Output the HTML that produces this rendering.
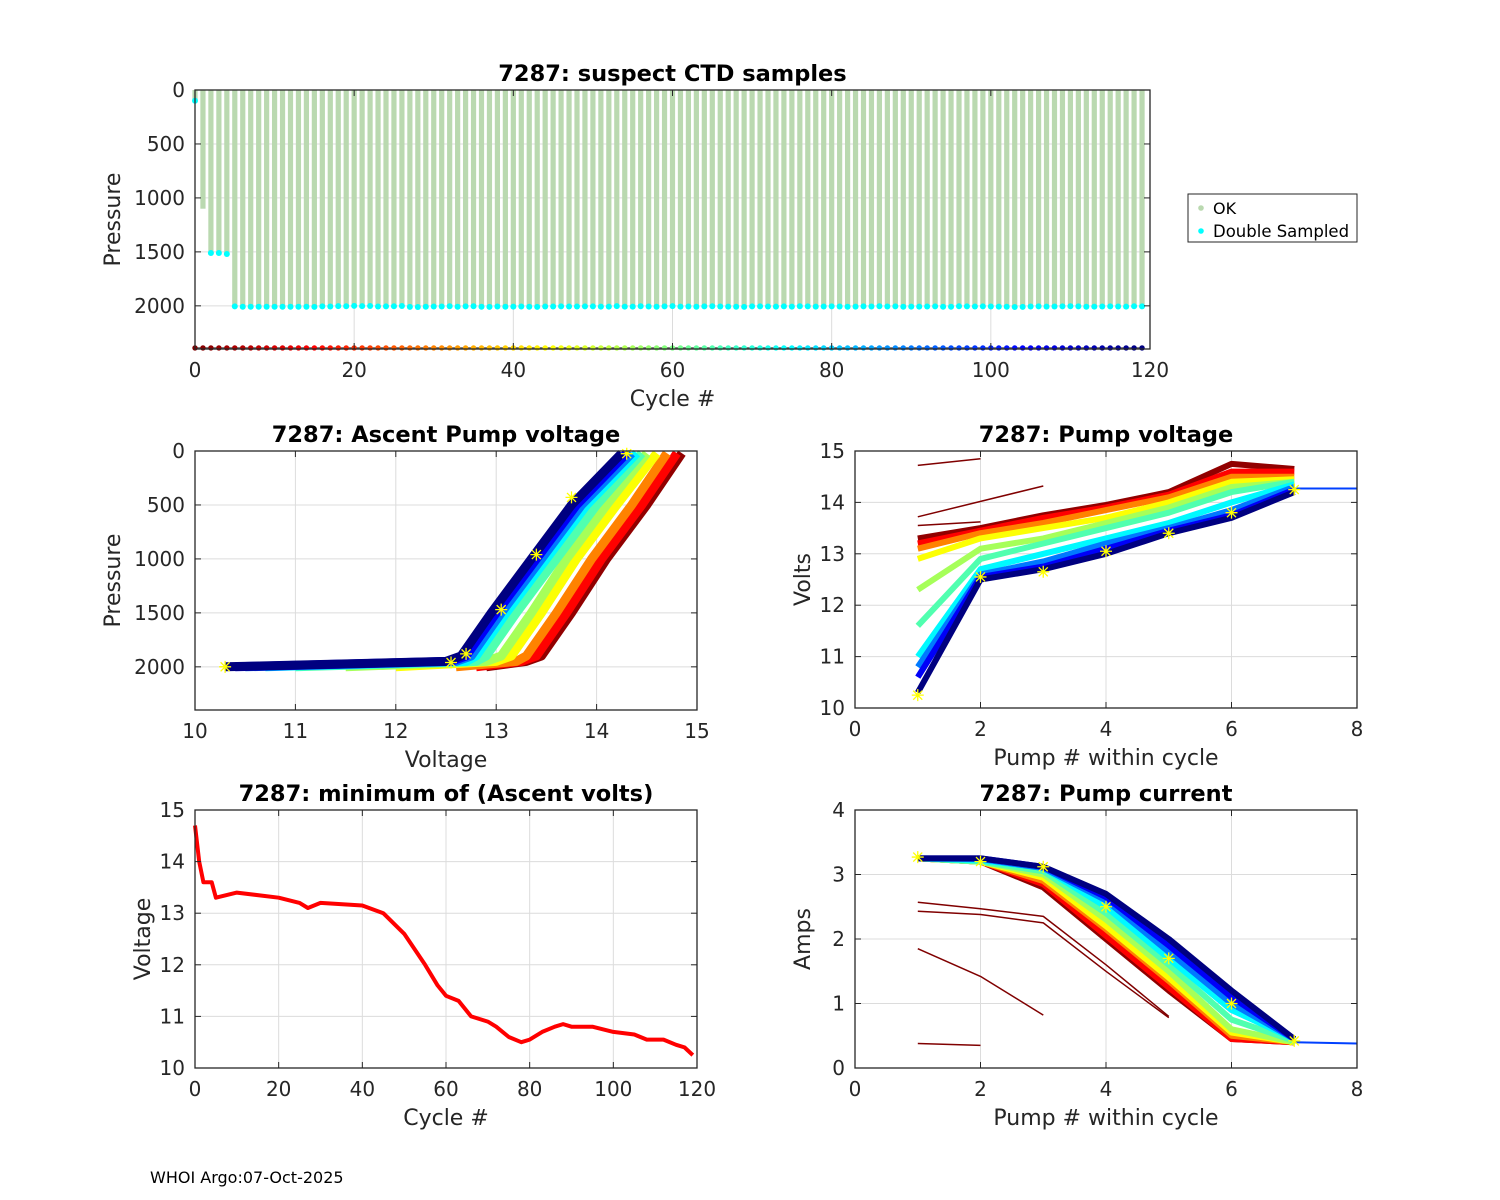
<!DOCTYPE html>
<html><head><meta charset="utf-8"><style>
body{margin:0;background:#fff;}
svg{display:block;font-family:"DejaVu Sans","Liberation Sans",sans-serif;}
</style></head><body>
<svg id="fig" width="1500" height="1200" viewBox="0 0 1500 1200" xmlns="http://www.w3.org/2000/svg">
<rect width="1500" height="1200" fill="#fff"/>
<text x="150" y="1183" font-size="16" fill="#000">WHOI Argo:07-Oct-2025</text>
</svg>
<script>
// ---------- DATA ----------
const ctdCycles = [];
for (let i = 0; i < 120; i++) ctdCycles.push(i);
const ctdDepths = [100,1100,1510,1510,1520,2005,2008,2008,2008,2008,2008,2008,2009,2008,2008,2010,2005,2006,2003,2004,2000,2003,2002,2006,2005,2004,2002,2010,2011,2008,2006,2006,2004,2008,2005,2004,2008,2010,2006,2008,2007,2006,2008,2010,2006,2006,2005,2006,2006,2005,2005,2007,2007,2003,2007,2007,2004,2006,2009,2005,2003,2007,2006,2008,2005,2004,2006,2007,2009,2010,2005,2005,2006,2007,2005,2007,2004,2005,2007,2006,2005,2006,2009,2007,2005,2006,2004,2006,2005,2008,2007,2007,2006,2005,2008,2009,2004,2005,2006,2005,2006,2007,2009,2011,2010,2006,2005,2007,2006,2005,2004,2005,2008,2007,2006,2005,2006,2007,2004,2005];
const ctdDoubleSampled = [1,0,1,1,1,1,1,1,1,1,1,1,1,1,1,1,1,1,1,1,1,1,1,1,1,1,1,1,1,1,1,1,1,1,1,1,1,1,1,1,1,1,1,1,1,1,1,1,1,1,1,1,1,1,1,1,1,1,1,1,1,1,1,1,1,1,1,1,1,1,1,1,1,1,1,1,1,1,1,1,1,1,1,1,1,1,1,1,1,1,1,1,1,1,1,1,1,1,1,1,1,1,1,1,1,1,1,1,1,1,1,1,1,1,1,1,1,1,1,1];

const profileCycles = [2,15,30,45,55,65,75,90,105,119];
const ascentPressures = [2000,1950,1900,1500,1000,500,20];
const ascentVolts = [
 [12.9,13.3,13.45,13.75,14.1,14.5,14.85],
 [12.8,13.25,13.4,13.7,14.05,14.45,14.8],
 [12.6,13.2,13.3,13.6,13.95,14.35,14.7],
 [12.0,13.0,13.15,13.45,13.8,14.2,14.6],
 [11.5,12.9,13.05,13.35,13.7,14.1,14.5],
 [11.0,12.8,12.9,13.2,13.6,14.0,14.45],
 [10.7,12.7,12.8,13.1,13.5,13.9,14.4],
 [10.5,12.6,12.75,13.05,13.45,13.85,14.35],
 [10.4,12.55,12.7,13.0,13.4,13.8,14.3],
 [10.3,12.5,12.65,12.95,13.35,13.75,14.25]];
const ascentStarV = [10.3,12.55,12.7,13.05,13.4,13.75,14.3];
const ascentStarP = [2000,1960,1880,1470,960,430,25];

const pumpNums = [1,2,3,4,5,6,7];
const pumpVolts = [
 [13.3,13.5,13.75,13.95,14.2,14.75,14.65],
 [13.2,13.45,13.7,13.9,14.15,14.6,14.6],
 [13.1,13.4,13.6,13.85,14.1,14.5,14.5],
 [12.9,13.3,13.5,13.7,14.0,14.4,14.45],
 [12.3,13.1,13.3,13.6,13.9,14.3,14.4],
 [11.6,12.9,13.2,13.5,13.8,14.2,14.4],
 [11.0,12.7,13.0,13.3,13.6,14.0,14.35],
 [10.8,12.6,12.85,13.2,13.5,13.85,14.3],
 [10.6,12.55,12.75,13.1,13.45,13.75,14.25],
 [10.3,12.5,12.7,13.0,13.4,13.7,14.2]];
const pumpVoltStars = [10.25,12.55,12.65,13.05,13.4,13.8,14.25];
const pumpVoltOutliersX = [[1,2],[1,3],[1,2]];
const pumpVoltOutliersY = [[14.72,14.85],[13.72,14.32],[13.55,13.62]];

const pumpAmps = [
 [3.25,3.2,2.8,2.0,1.2,0.45,0.4],
 [3.25,3.2,2.85,2.05,1.25,0.45,0.4],
 [3.25,3.2,2.9,2.15,1.35,0.5,0.4],
 [3.25,3.2,2.95,2.2,1.4,0.55,0.4],
 [3.25,3.2,3.0,2.3,1.5,0.6,0.4],
 [3.25,3.2,3.05,2.4,1.6,0.75,0.42],
 [3.25,3.22,3.1,2.5,1.7,0.9,0.45],
 [3.25,3.24,3.1,2.6,1.8,1.0,0.45],
 [3.25,3.25,3.12,2.65,1.9,1.1,0.45],
 [3.25,3.25,3.12,2.7,2.0,1.2,0.45]];
const ampStars = [3.27,3.2,3.12,2.5,1.7,1.0,0.42];
const ampOutliersX = [[1,2,3,4,5],[1,2,3,4,5],[1,2,3],[1,2]];
const ampOutliersY = [[2.57,2.47,2.35,1.6,0.8],[2.43,2.38,2.25,1.5,0.78],[1.85,1.42,0.82],[0.38,0.35]];

const minCycles = [0,1,2,4,5,10,20,25,27,30,40,45,50,55,58,60,63,66,70,72,75,78,80,83,86,88,90,95,100,105,108,112,115,117,119];
const minVolts = [14.7,14.0,13.6,13.6,13.3,13.4,13.3,13.2,13.1,13.2,13.15,13.0,12.6,12.0,11.6,11.4,11.3,11.0,10.9,10.8,10.6,10.5,10.55,10.7,10.8,10.85,10.8,10.8,10.7,10.65,10.55,10.55,10.45,10.4,10.25];

// ---------- HELPERS ----------
const svg = document.getElementById('fig');
const NS = 'http://www.w3.org/2000/svg';
function mk(tag, attrs, parent) {
  const e = document.createElementNS(NS, tag);
  for (const k in attrs) e.setAttribute(k, attrs[k]);
  (parent || svg).appendChild(e);
  return e;
}
function jet(t) {
  t = Math.max(0, Math.min(1, t));
  const f = x => Math.max(0, Math.min(1, x));
  const r = f(1.5 - Math.abs(4 * t - 3)), g = f(1.5 - Math.abs(4 * t - 2)), b = f(1.5 - Math.abs(4 * t - 1));
  return `rgb(${Math.round(r * 255)},${Math.round(g * 255)},${Math.round(b * 255)})`;
}
function cyc(c) { return jet(1 - c / 119); }
function lin(d0, d1, r0, r1) { return v => r0 + (v - d0) / (d1 - d0) * (r1 - r0); }

function makeAxes(o) {
  const g = mk('g', {});
  
  
  const sx = lin(o.xd[0], o.xd[1], o.x0, o.x1);
  const sy = lin(o.yd[0], o.yd[1], o.y0, o.y1);
  const top = Math.min(o.y0, o.y1), bot = Math.max(o.y0, o.y1);
  o.xt.forEach(v => { const x = sx(v); mk('line', {x1: x, x2: x, y1: top, y2: bot, stroke: '#dcdcdc', 'stroke-width': 1}, g); });
  o.yt.forEach(v => { const y = sy(v); mk('line', {x1: o.x0, x2: o.x1, y1: y, y2: y, stroke: '#dcdcdc', 'stroke-width': 1}, g); });
  const plot = mk('g', {}, g);
  
  
  const frame = mk('g', {}, g);
  return {g, plot, sx, sy, top, bot, frame, o};
}
function finishAxes(A) {
  const o = A.o, g = A.frame;
  mk('rect', {x: o.x0, y: A.top, width: o.x1 - o.x0, height: A.bot - A.top, fill: 'none', stroke: '#262626', 'stroke-width': 1.3}, g);
  o.xt.forEach((v, i) => {
    const x = A.sx(v);
    mk('line', {x1: x, x2: x, y1: A.bot, y2: A.bot - 6, stroke: '#262626'}, g);
    mk('line', {x1: x, x2: x, y1: A.top, y2: A.top + 6, stroke: '#262626'}, g);
    const t = mk('text', {x: x, y: A.bot + 28, 'font-size': 20, 'text-anchor': 'middle', fill: '#262626'}, g);
    t.textContent = o.xl[i];
    
    
  });
  o.yt.forEach((v, i) => {
    const y = A.sy(v);
    mk('line', {x1: o.x0, x2: o.x0 + 6, y1: y, y2: y, stroke: '#262626'}, g);
    mk('line', {x1: o.x1, x2: o.x1 - 6, y1: y, y2: y, stroke: '#262626'}, g);
    const t = mk('text', {x: o.x0 - 10, y: y + 7, 'font-size': 20, 'text-anchor': 'end', fill: '#262626'}, g);
    t.textContent = o.yl[i];
    
    
  });
  const tt = mk('text', {x: (o.x0 + o.x1) / 2, y: A.top - 9, 'font-size': 22.5, 'font-weight': 'bold', 'text-anchor': 'middle', fill: '#000'}, g);
  tt.textContent = o.title;
  
  
  const xl = mk('text', {x: (o.x0 + o.x1) / 2, y: A.bot + 57, 'font-size': 22, 'text-anchor': 'middle', fill: '#262626'}, g);
  xl.textContent = o.xlabel;
  
  
  const yx = o.x0 - o.ylOff, yy = (A.top + A.bot) / 2;
  const yl = mk('text', {x: yx, y: yy, 'font-size': 22, 'text-anchor': 'middle', fill: '#262626', transform: `rotate(-90 ${yx} ${yy})`}, g);
  yl.textContent = o.ylabel;
  
  
  A.g.appendChild(g);
}
function polyline(A, xs, ys, color, w) {
  const pts = xs.map((x, i) => A.sx(x).toFixed(1) + ',' + A.sy(ys[i]).toFixed(1)).join(' ');
  return mk('polyline', {points: pts, fill: 'none', stroke: color, 'stroke-width': w, 'stroke-linejoin': 'round'}, A.plot);
}
function star(A, x, y) {
  const cx = A.sx(x), cy = A.sy(y), r = 6;
  const d = `M${cx - r},${cy}H${cx + r}M${cx},${cy - r}V${cy + r}M${cx - 4.5},${cy - 4.5}L${cx + 4.5},${cy + 4.5}M${cx - 4.5},${cy + 4.5}L${cx + 4.5},${cy - 4.5}`;
  const p = mk('path', {d: d, stroke: '#ffff00', 'stroke-width': 1.3, fill: 'none'}, A.plot);
  
  
}

// ---------- CHART 1 ----------
const A1 = makeAxes({name: 'ctd-samples-chart', x0: 195, x1: 1150, y0: 90, y1: 349, xd: [0, 120], yd: [0, 2400],
  xt: [0, 20, 40, 60, 80, 100, 120], xl: ['0', '20', '40', '60', '80', '100', '120'],
  yt: [0, 500, 1000, 1500, 2000], yl: ['0', '500', '1000', '1500', '2000'],
  title: '7287: suspect CTD samples', xlabel: 'Cycle #', ylabel: 'Pressure', ylOff: 75});
ctdCycles.forEach((c, i) => {
  const x = A1.sx(c);
  const b = mk('rect', {x: x - 2.6, y: A1.sy(0), width: 5.2, height: A1.sy(ctdDepths[i]) - A1.sy(0), fill: '#bad9b0'}, A1.plot);
  
  
});
ctdCycles.forEach((c, i) => {
  if (!ctdDoubleSampled[i]) return;
  const d = mk('circle', {cx: A1.sx(c), cy: A1.sy(ctdDepths[i]), r: 3, fill: '#00ffff'}, A1.plot);
  
  
});
mk('line', {x1: A1.sx(0), x2: A1.sx(119), y1: A1.sy(2390), y2: A1.sy(2390), stroke: '#333', 'stroke-width': 1}, A1.plot);
ctdCycles.forEach(c => {
  const d = mk('circle', {cx: A1.sx(c), cy: A1.sy(2390), r: 2.7, fill: cyc(c)}, A1.plot);
  
  
});
finishAxes(A1);
const lg = mk('g', {});


mk('rect', {x: 1188, y: 194, width: 169, height: 48, fill: '#fff', stroke: '#262626', 'stroke-width': 1}, lg);
const le1 = mk('g', {}, lg);


mk('circle', {cx: 1201, cy: 208, r: 2.8, fill: '#bad9b0'}, le1);
const lt1 = mk('text', {x: 1213, y: 214, 'font-size': 16, fill: '#000'}, le1); lt1.textContent = 'OK';
const le2 = mk('g', {}, lg);


mk('circle', {cx: 1201, cy: 231, r: 2.8, fill: '#00ffff'}, le2);
const lt2 = mk('text', {x: 1213, y: 237, 'font-size': 16.5, fill: '#000'}, le2); lt2.textContent = 'Double Sampled';

// ---------- CHART 2 ----------
const A2 = makeAxes({name: 'ascent-pump-voltage-chart', x0: 195, x1: 697, y0: 451, y1: 710, xd: [10, 15], yd: [0, 2400],
  xt: [10, 11, 12, 13, 14, 15], xl: ['10', '11', '12', '13', '14', '15'],
  yt: [0, 500, 1000, 1500, 2000], yl: ['0', '500', '1000', '1500', '2000'],
  title: '7287: Ascent Pump voltage', xlabel: 'Voltage', ylabel: 'Pressure', ylOff: 75});
profileCycles.forEach((c, i) => {
  const l = polyline(A2, ascentVolts[i], ascentPressures, cyc(c), 9);
  
  
});
ascentStarV.forEach((v, i) => star(A2, v, ascentStarP[i]));
finishAxes(A2);

// ---------- CHART 3 ----------
const A3 = makeAxes({name: 'pump-voltage-chart', x0: 855, x1: 1357, y0: 708, y1: 451, xd: [0, 8], yd: [10, 15],
  xt: [0, 2, 4, 6, 8], xl: ['0', '2', '4', '6', '8'],
  yt: [10, 11, 12, 13, 14, 15], yl: ['10', '11', '12', '13', '14', '15'],
  title: '7287: Pump voltage', xlabel: 'Pump # within cycle', ylabel: 'Volts', ylOff: 45});
pumpVoltOutliersX.forEach((xs, i) => {
  const l = polyline(A3, xs, pumpVoltOutliersY[i], '#800000', 1.5);
  
  
});
profileCycles.forEach((c, i) => {
  const l = polyline(A3, pumpNums, pumpVolts[i], cyc(c), 6);
  
  
});
{ const l = polyline(A3, [7, 8], [14.27, 14.27], '#0040ff', 2);   }
pumpVoltStars.forEach((v, i) => star(A3, pumpNums[i], v));
finishAxes(A3);

// ---------- CHART 4 ----------
const A4 = makeAxes({name: 'min-ascent-volts-chart', x0: 195, x1: 697, y0: 1068, y1: 810, xd: [0, 120], yd: [10, 15],
  xt: [0, 20, 40, 60, 80, 100, 120], xl: ['0', '20', '40', '60', '80', '100', '120'],
  yt: [10, 11, 12, 13, 14, 15], yl: ['10', '11', '12', '13', '14', '15'],
  title: '7287: minimum of (Ascent volts)', xlabel: 'Cycle #', ylabel: 'Voltage', ylOff: 45});
{ const l = polyline(A4, minCycles, minVolts, '#ff0000', 4);   }
finishAxes(A4);

// ---------- CHART 5 ----------
const A5 = makeAxes({name: 'pump-current-chart', x0: 855, x1: 1357, y0: 1068, y1: 810, xd: [0, 8], yd: [0, 4],
  xt: [0, 2, 4, 6, 8], xl: ['0', '2', '4', '6', '8'],
  yt: [0, 1, 2, 3, 4], yl: ['0', '1', '2', '3', '4'],
  title: '7287: Pump current', xlabel: 'Pump # within cycle', ylabel: 'Amps', ylOff: 45});
ampOutliersX.forEach((xs, i) => {
  const l = polyline(A5, xs, ampOutliersY[i], '#800000', 1.5);
  
  
});
profileCycles.forEach((c, i) => {
  const l = polyline(A5, pumpNums, pumpAmps[i], cyc(c), 6);
  
  
});
{ const l = polyline(A5, [7, 8], [0.4, 0.38], '#0040ff', 2);   }
ampStars.forEach((v, i) => star(A5, pumpNums[i], v));
finishAxes(A5);
</script>
</body></html>
